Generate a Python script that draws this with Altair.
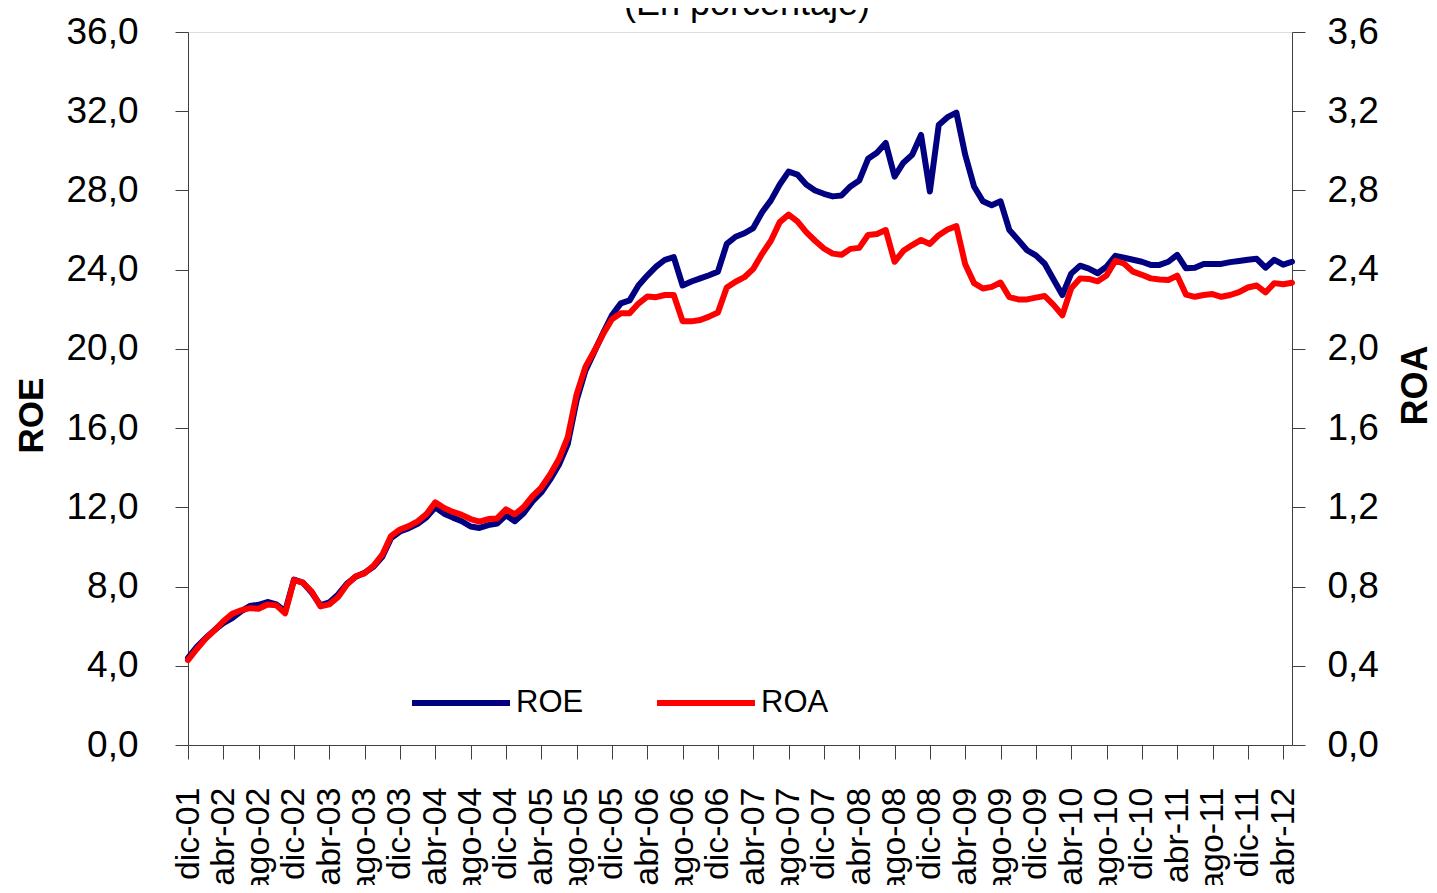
import altair as alt
import pandas as pd

FONT = "'Liberation Sans', Arial, sans-serif"

abrev = ['ene', 'feb', 'mar', 'abr', 'may', 'jun', 'jul', 'ago', 'sep', 'oct', 'nov', 'dic']
n = 126
meses = []
for k in range(n):
    m = (11 + k) % 12
    a = 1 + (11 + k) // 12
    meses.append(f"{abrev[m]}-{a:02d}")
etiquetas = meses[::4]

roe = [4.40, 4.95, 5.40, 5.80, 6.15, 6.40, 6.75, 7.02, 7.08, 7.22,
       7.10, 6.75, 8.35, 8.20, 7.70, 7.05, 7.20, 7.60, 8.15, 8.50,
       8.70, 9.00, 9.50, 10.45, 10.78, 10.95, 11.17, 11.50, 12.00, 11.68,
       11.48, 11.30, 11.03, 10.96, 11.10, 11.18, 11.60, 11.30, 11.70, 12.30,
       12.75, 13.40, 14.15, 15.20, 17.40, 18.90, 19.85, 20.80, 21.70, 22.30,
       22.45, 23.20, 23.70, 24.15, 24.50, 24.63, 23.20, 23.40, 23.56, 23.72,
       23.90, 25.30, 25.66, 25.84, 26.10, 26.90, 27.50, 28.30, 28.95, 28.80,
       28.30, 28.00, 27.83, 27.70, 27.75, 28.20, 28.50, 29.60, 29.90, 30.40,
       28.70, 29.40, 29.80, 30.80, 27.95, 31.30, 31.70, 31.93, 29.80, 28.20,
       27.45, 27.25, 27.45, 26.00, 25.50, 24.98, 24.72, 24.30, 23.50, 22.72,
       23.80, 24.20, 24.05, 23.82, 24.15, 24.70, 24.60, 24.50, 24.40, 24.24,
       24.24, 24.40, 24.75, 24.07, 24.10, 24.29, 24.29, 24.29, 24.38, 24.44,
       24.50, 24.55, 24.10, 24.50, 24.25, 24.40]

roa = [0.429, 0.485, 0.537, 0.579, 0.625, 0.663, 0.680, 0.691, 0.688, 0.709,
       0.705, 0.665, 0.833, 0.820, 0.775, 0.700, 0.710, 0.747, 0.810, 0.852,
       0.867, 0.905, 0.961, 1.056, 1.088, 1.105, 1.129, 1.166, 1.225, 1.197,
       1.177, 1.162, 1.141, 1.128, 1.141, 1.144, 1.190, 1.165, 1.201, 1.256,
       1.300, 1.366, 1.444, 1.554, 1.770, 1.909, 1.989, 2.075, 2.150, 2.180,
       2.180, 2.229, 2.264, 2.261, 2.272, 2.272, 2.140, 2.139, 2.146, 2.163,
       2.184, 2.310, 2.339, 2.362, 2.404, 2.480, 2.546, 2.640, 2.678, 2.644,
       2.590, 2.546, 2.507, 2.481, 2.475, 2.505, 2.510, 2.575, 2.580, 2.600,
       2.440, 2.495, 2.524, 2.550, 2.530, 2.574, 2.603, 2.620, 2.427, 2.332,
       2.305, 2.313, 2.335, 2.261, 2.250, 2.250, 2.259, 2.267, 2.222, 2.170,
       2.306, 2.356, 2.353, 2.341, 2.371, 2.445, 2.430, 2.390, 2.374, 2.356,
       2.350, 2.348, 2.370, 2.274, 2.263, 2.272, 2.277, 2.263, 2.272, 2.287,
       2.310, 2.320, 2.285, 2.332, 2.326, 2.334]

series = ['ROE', 'ROA']
colores = ['#000080', '#FF0000']
ticks_roe = [4 * k for k in range(10)]
ticks_roa = [round(0.4 * k, 1) for k in range(10)]
titulo = ['(En porcentaje)']

df = pd.DataFrame({
    'mes': meses + meses,
    'serie': ['ROE'] * n + ['ROA'] * n,
    'valor': roe + roa,
})

AX = "#404040"
coma = "replace(format(datum.value, '.1f'), '.', ',')"

base = alt.Chart(df).encode(
    x=alt.X('mes:N', sort=meses, title=None,
            scale=alt.Scale(type='point', padding=0),
            axis=alt.Axis(values=etiquetas, labelAngle=-90, labelFont=FONT,
                          labelFontSize=34, labelColor='black', labelPadding=28,
                          tickSize=14, tickColor=AX, domainColor=AX,
                          labelOverlap=False, grid=False)),
    color=alt.Color('serie:N',
                    scale=alt.Scale(domain=series, range=colores),
                    legend=alt.Legend(orient='none', legendX=221, legendY=619,
                                      direction='horizontal', title=None,
                                      symbolType='stroke', symbolSize=9600,
                                      symbolStrokeWidth=6, labelFont=FONT,
                                      labelFontSize=31, labelColor='black',
                                      labelOffset=3, columnPadding=61,
                                      padding=0)),
)

linea = dict(strokeWidth=6, strokeCap='round', strokeJoin='round')

capa_roe = base.transform_filter(alt.datum.serie == 'ROE').mark_line(**linea).encode(
    y=alt.Y('valor:Q', scale=alt.Scale(domain=[0, 36], nice=False),
            axis=alt.Axis(orient='left', values=ticks_roe, labelExpr=coma,
                          labelFont=FONT, labelFontSize=37, labelColor='black',
                          labelPadding=37, tickSize=13, tickColor=AX,
                          domainColor=AX, grid=False,
                          title='ROE', titleFont=FONT, titleFontSize=35,
                          titleFontWeight='bold', titleColor='black',
                          titleAngle=270, titleAlign='center', titleBaseline='middle',
                          titleX=-157, titleY=383))
)

capa_roa = base.transform_filter(alt.datum.serie == 'ROA').mark_line(**linea).encode(
    y=alt.Y('valor:Q', scale=alt.Scale(domain=[0, 3.6], nice=False),
            axis=alt.Axis(orient='right', values=ticks_roa, labelExpr=coma,
                          labelFont=FONT, labelFontSize=37, labelColor='black',
                          labelPadding=22, tickSize=13, tickColor=AX,
                          domainColor=AX, grid=False,
                          title='ROA', titleFont=FONT, titleFontSize=36,
                          titleFontWeight='bold', titleColor='black',
                          titleAngle=270, titleAlign='center', titleBaseline='middle',
                          titleX=123, titleY=353))
)

capa_titulo = alt.Chart(pd.DataFrame({'t': titulo})).mark_text(
    font=FONT, fontSize=36, color='black', align='center', baseline='alphabetic'
).encode(text='t:N', x=alt.value(559), y=alt.value(-17))

chart = alt.layer(capa_roe, capa_roa, capa_titulo).resolve_scale(y='independent').properties(
    width=1104, height=713,
    autosize=alt.AutoSizeParams(type='none'),
    padding={'left': 180, 'top': 24, 'right': 137, 'bottom': 140},
).configure_view(stroke='#808080', strokeWidth=1).configure(background='white')

chart.save("out.html", embed_options={"renderer": "svg", "actions": False})
